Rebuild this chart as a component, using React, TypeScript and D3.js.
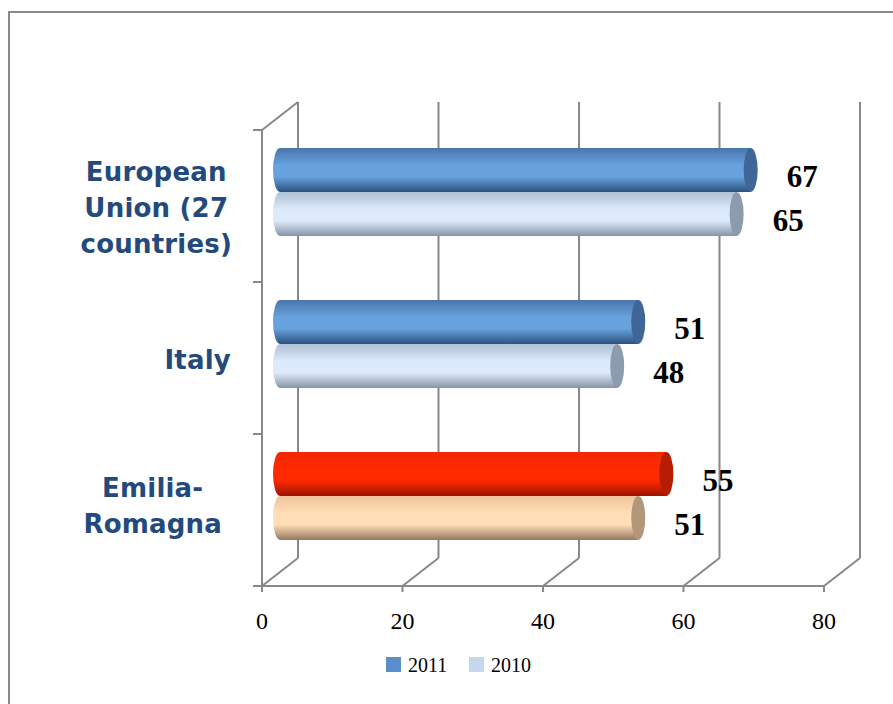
import React, { useEffect, useRef } from 'react';
import * as d3 from 'd3';

// chart values
const categories = ['European Union (27 countries)', 'Italy', 'Emilia-Romagna'];
const categoryLines = [['European', 'Union (27', 'countries)'], ['Italy'], ['Emilia-', 'Romagna']];
const seriesNames = ['2011', '2010'];
const values2011 = [67, 51, 55];
const values2010 = [65, 48, 51];
const xTicks = [0, 20, 40, 60, 80];

// gradient stops: [top, middle, bottom, cap]
const blueDark = ['#4975AD', '#68A2DE', '#2C5280', '#3F6696'];
const blueLight = ['#AFC0D6', '#DCEAFB', '#8794A6', '#8C9CAE'];
const redDark = ['#F02800', '#FF2A00', '#9A1300', '#B51C00'];
const peach = ['#EFC39B', '#FFDEB8', '#957760', '#B39779'];

const App = () => {
    const svgRef = useRef(null);

    useEffect(() => {
        const svg = d3.select(svgRef.current);
        svg.selectAll('*').remove();

        const width = 893;
        const height = 704;
        const front = { left: 262, right: 824, top: 130, bottom: 586 };
        const depth = { dx: 36, dy: -28 };
        const axisColor = '#888888';

        svg.attr('width', width).attr('height', height);

        // outer frame
        svg.append('rect')
            .attr('x', 9).attr('y', 12)
            .attr('width', 900).attr('height', 720)
            .attr('fill', 'none').attr('stroke', axisColor).attr('stroke-width', 2);

        const x = d3.scaleLinear().domain([0, 80]).range([front.left, front.right]);
        const y = d3.scaleBand().domain(categories).range([front.top, front.bottom]);
        const ySub = d3.scaleBand().domain(seriesNames).range([0, y.bandwidth()]).paddingOuter(0.727);

        const grid = svg.append('g').attr('stroke', axisColor).attr('stroke-width', 2).attr('fill', 'none');

        // back wall gridlines + floor diagonals
        xTicks.forEach((t) => {
            const fx = x(t);
            grid.append('line')
                .attr('x1', fx + depth.dx).attr('x2', fx + depth.dx)
                .attr('y1', front.top + depth.dy).attr('y2', front.bottom + depth.dy);
            grid.append('line')
                .attr('x1', fx).attr('y1', front.bottom)
                .attr('x2', fx + depth.dx).attr('y2', front.bottom + depth.dy);
            grid.append('line')
                .attr('x1', fx).attr('x2', fx)
                .attr('y1', front.bottom).attr('y2', front.bottom + 6);
        });

        // left wall
        grid.append('line')
            .attr('x1', front.left).attr('x2', front.left)
            .attr('y1', front.top).attr('y2', front.bottom);
        grid.append('line')
            .attr('x1', front.left).attr('y1', front.top)
            .attr('x2', front.left + depth.dx).attr('y2', front.top + depth.dy);
        grid.append('line')
            .attr('x1', front.left).attr('x2', front.right)
            .attr('y1', front.bottom).attr('y2', front.bottom);

        const catTicks = categories.map((c) => y(c)).concat([front.bottom]);
        catTicks.forEach((ty) => {
            grid.append('line')
                .attr('x1', front.left - 9).attr('x2', front.left)
                .attr('y1', ty).attr('y2', ty);
        });

        // gradients
        const defs = svg.append('defs');
        const palettes = { blueDark, blueLight, redDark, peach };
        Object.entries(palettes).forEach(([name, p]) => {
            const g = defs.append('linearGradient')
                .attr('id', 'g-' + name)
                .attr('x1', 0).attr('y1', 0).attr('x2', 0).attr('y2', 1);
            g.append('stop').attr('offset', '0%').attr('stop-color', p[0]);
            g.append('stop').attr('offset', '40%').attr('stop-color', p[1]);
            g.append('stop').attr('offset', '65%').attr('stop-color', p[1]);
            g.append('stop').attr('offset', '100%').attr('stop-color', p[2]);
        });

        const bars = [];
        categories.forEach((c, i) => {
            const red = c === 'Emilia-Romagna';
            bars.push({ cat: c, series: '2011', value: values2011[i], pal: red ? 'redDark' : 'blueDark' });
            bars.push({ cat: c, series: '2010', value: values2010[i], pal: red ? 'peach' : 'blueLight' });
        });

        const hx = depth.dx / 2;
        const hy = depth.dy / 2;
        const bh = ySub.bandwidth();
        const rx = 7;

        const barG = svg.append('g');
        bars.forEach((b) => {
            const y0 = y(b.cat) + ySub(b.series) + hy;
            const x0 = x(0) + hx;
            const x1 = x(b.value) + hx;
            const g = barG.append('g');
            g.append('ellipse')
                .attr('cx', x0).attr('cy', y0 + bh / 2)
                .attr('rx', rx).attr('ry', bh / 2)
                .attr('fill', `url(#g-${b.pal})`);
            g.append('rect')
                .attr('x', x0).attr('y', y0)
                .attr('width', x1 - x0).attr('height', bh)
                .attr('fill', `url(#g-${b.pal})`);
            g.append('ellipse')
                .attr('cx', x1).attr('cy', y0 + bh / 2)
                .attr('rx', rx).attr('ry', bh / 2)
                .attr('fill', palettes[b.pal][3]);

            svg.append('text')
                .attr('x', x1 + 36).attr('y', y0 + bh / 2 + 17)
                .attr('font-family', 'Liberation Serif, serif')
                .attr('font-weight', 'bold')
                .attr('font-size', 31)
                .attr('fill', '#000')
                .text(b.value);
        });

        // x axis labels
        xTicks.forEach((t) => {
            svg.append('text')
                .attr('x', x(t)).attr('y', 629)
                .attr('text-anchor', 'middle')
                .attr('font-family', 'Liberation Serif, serif')
                .attr('font-size', 24)
                .attr('fill', '#000')
                .text(t);
        });

        // category labels: lines centred inside a block, blocks right-aligned
        const labelRight = [232, 231, 222];
        const baselineFirst = [181, 369, 497];
        categoryLines.forEach((lines, i) => {
            const g = svg.append('g');
            const texts = lines.map((ln, k) =>
                g.append('text')
                    .attr('y', baselineFirst[i] + k * 36)
                    .attr('text-anchor', 'middle')
                    .attr('font-family', 'DejaVu Sans, sans-serif')
                    .attr('font-weight', 'bold')
                    .attr('font-size', 26)
                    .attr('letter-spacing', 0.2)
                    .attr('fill', '#24497C')
                    .text(ln)
            );
            const widest = d3.max(texts, (t) => t.node().getComputedTextLength());
            const cx = labelRight[i] - widest / 2;
            texts.forEach((t) => t.attr('x', cx));
        });

        // legend
        const legend = svg.append('g');
        const legendItems = [
            { name: seriesNames[0], color: '#5B8FCB', x: 386 },
            { name: seriesNames[1], color: '#C5D7EE', x: 469 },
        ];
        legendItems.forEach((d) => {
            legend.append('rect')
                .attr('x', d.x).attr('y', 657)
                .attr('width', 15).attr('height', 15)
                .attr('fill', d.color);
            legend.append('text')
                .attr('x', d.x + 22).attr('y', 672)
                .attr('font-family', 'Liberation Serif, serif')
                .attr('font-size', 20)
                .attr('fill', '#000')
                .text(d.name);
        });
    }, []);

    return (
        <svg ref={svgRef} style={{ position: 'absolute', left: 0, top: 0, background: '#fff' }} />
    );
};

export default App;
